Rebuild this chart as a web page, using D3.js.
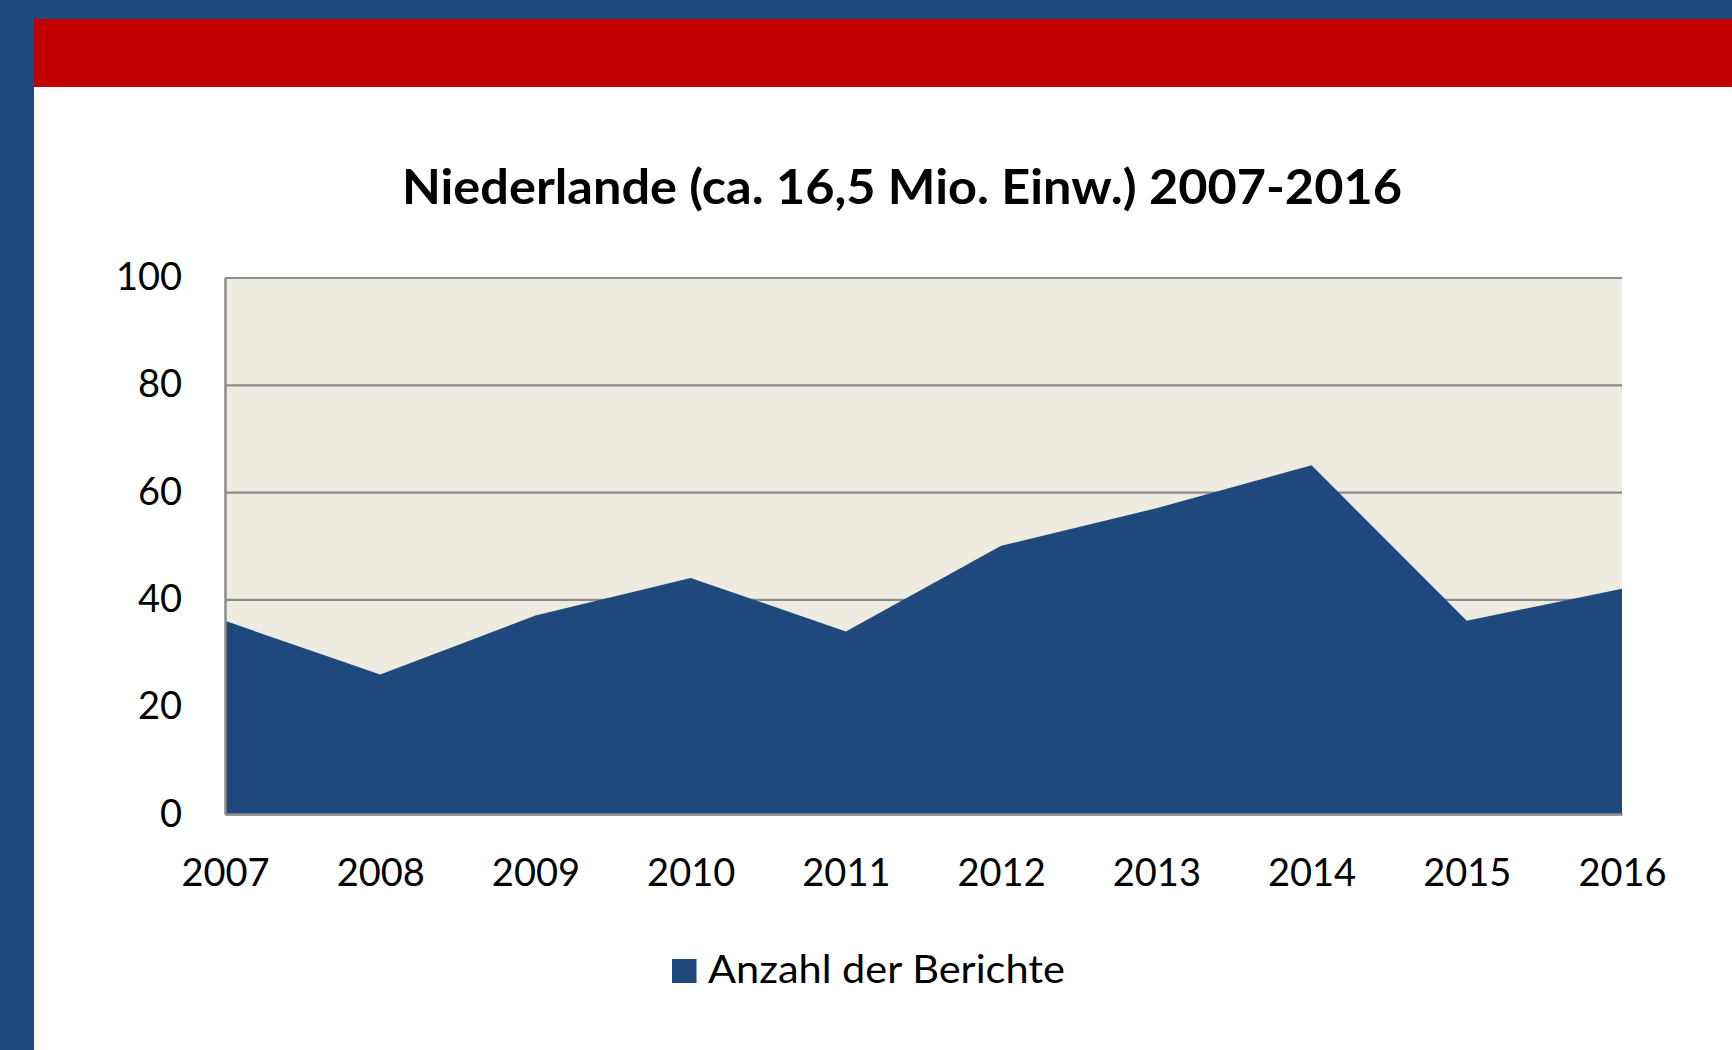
<!DOCTYPE html>
<html>
<head>
<meta charset="utf-8">
<script src="https://cdn.jsdelivr.net/npm/d3@7/dist/d3.min.js"></script>
<style>
  html, body { margin: 0; padding: 0; background: #ffffff; }
  svg { display: block; }
  text { font-family: Lato, "Open Sans", sans-serif; }
</style>
</head>
<body>
<svg id="chart" width="1732" height="1050"></svg>
<script>
// Reports per year, Netherlands 2007-2016
const years = ["2007", "2008", "2009", "2010", "2011", "2012", "2013", "2014", "2015", "2016"];
const reports = [36, 26, 37, 44, 34, 50, 57, 65, 36, 42];
const yTicks = [0, 20, 40, 60, 80, 100];
const seriesName = "Anzahl der Berichte";
const titleText = "Niederlande (ca. 16,5 Mio. Einw.) 2007-2016";

const W = 1732, H = 1050;
const svg = d3.select("#chart");

// Slide frame: blue border top and left, red header band
svg.append("rect").attr("x", 0).attr("y", 0).attr("width", W).attr("height", H).attr("fill", "#ffffff");
svg.append("rect").attr("x", 0).attr("y", 0).attr("width", W).attr("height", 19).attr("fill", "#1F497D");
svg.append("rect").attr("x", 0).attr("y", 0).attr("width", 34).attr("height", H).attr("fill", "#1F497D");
svg.append("rect").attr("x", 34).attr("y", 19).attr("width", W - 34).attr("height", 68).attr("fill", "#C00000");

// Plot geometry
const plot = { left: 225, right: 1622, top: 277.5, bottom: 814 };

const x = d3.scalePoint().domain(years).range([plot.left, plot.right]);
const y = d3.scaleLinear().domain([0, 100]).range([plot.bottom, plot.top]);

// Title
svg.append("text")
  .attr("x", 902).attr("y", 204)
  .attr("text-anchor", "middle")
  .attr("font-size", 47.5).attr("font-weight", 700)
  .attr("fill", "#000")
  .attr("textLength", 1000).attr("lengthAdjust", "spacingAndGlyphs")
  .text(titleText);

// Plot background
svg.append("rect")
  .attr("x", plot.left).attr("y", plot.top)
  .attr("width", plot.right - plot.left).attr("height", plot.bottom - plot.top)
  .attr("fill", "#EEECE1");

// Horizontal gridlines
const grid = svg.append("g")
  .attr("transform", `translate(${plot.left},0)`)
  .call(d3.axisLeft(y).tickValues(yTicks).tickSize(-(plot.right - plot.left)).tickFormat(""));
grid.select(".domain").remove();
grid.selectAll(".tick line").attr("stroke", "#8C8C8C").attr("stroke-width", 2.2);

// Area series
const area = d3.area()
  .x((d, i) => x(years[i]))
  .y0(y(0))
  .y1(d => y(d))
  .curve(d3.curveLinear);

svg.append("path")
  .datum(reports)
  .attr("d", area)
  .attr("fill", "#1F497D");

// Y axis
const yAxis = svg.append("g")
  .attr("transform", `translate(${plot.left},0)`)
  .call(d3.axisLeft(y).tickValues(yTicks).tickSize(0).tickPadding(43));
yAxis.select(".domain").attr("stroke", "#8C8C8C").attr("stroke-width", 2.5);
yAxis.selectAll(".tick text")
  .attr("font-size", 38).attr("fill", "#000")
  .style("font-family", "Lato, 'Open Sans', sans-serif");

// X axis
const xAxis = svg.append("g")
  .attr("transform", `translate(0,${plot.bottom})`)
  .call(d3.axisBottom(x).tickSize(0).tickPadding(45));
xAxis.select(".domain").attr("stroke", "#8C8C8C").attr("stroke-width", 2.5);
xAxis.selectAll(".tick text")
  .attr("font-size", 38).attr("fill", "#000")
  .style("font-family", "Lato, 'Open Sans', sans-serif");

// Legend
const legend = svg.append("g");
legend.append("rect")
  .attr("x", 672).attr("y", 959).attr("width", 24.5).attr("height", 24)
  .attr("fill", "#1F497D");
legend.append("text")
  .attr("x", 708).attr("y", 982.5)
  .attr("font-size", 38).attr("fill", "#000")
  .attr("textLength", 357).attr("lengthAdjust", "spacingAndGlyphs")
  .text(seriesName);
</script>
</body>
</html>
